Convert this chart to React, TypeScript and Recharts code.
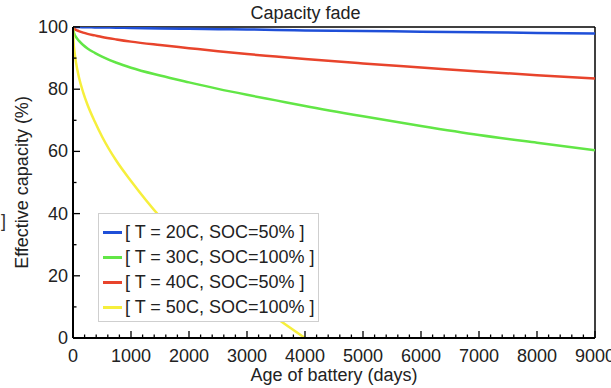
import { Line, LineChart, ReferenceLine, XAxis, YAxis } from "recharts";

// 읽어낸 값 (그림에서 추정)
const days = [0, 10, 25, 50, 100, 175, 250, 375, 500, 750, 1000, 1500, 2000, 2500, 3000, 3500, 4000, 5000, 6000, 7000, 8000, 9000];
const t20soc50 = [100, 100, 99.99, 99.98, 99.96, 99.93, 99.9, 99.87, 99.84, 99.77, 99.7, 99.55, 99.4, 99.3, 99.2, 99.05, 98.9, 98.7, 98.5, 98.3, 98.1, 97.9];
const t30soc100 = [100, 98.6, 97.7, 96.8, 95.6, 94.2, 93.1, 91.7, 90.5, 88.5, 86.9, 84.4, 82.2, 80.1, 78.2, 76.4, 74.6, 71.3, 68.2, 65.3, 62.8, 60.4];
const t40soc50 = [100, 99.7, 99.4, 99.1, 98.7, 98.2, 97.8, 97.3, 96.8, 96.0, 95.3, 94.2, 93.2, 92.2, 91.3, 90.5, 89.7, 88.3, 87.0, 85.7, 84.5, 83.4];
const t50soc100 = [100, 95, 92.1, 88.8, 84, 79, 75, 69.6, 64.8, 56.9, 50.5, 39, 29.5, 21, 13.5, 6.5, 0, null, null, null, null, null];

const seriesNames = [
  "[ T = 20C, SOC=50% ]",
  "[ T = 30C, SOC=100% ]",
  "[ T = 40C, SOC=50% ]",
  "[ T = 50C, SOC=100% ]",
];
const seriesColors = ["#1f4fd8", "#62e646", "#e8442c", "#f6ef3c"];

const xMajorTicks = [0, 1000, 2000, 3000, 4000, 5000, 6000, 7000, 8000, 9000];
const yMajorTicks = [0, 20, 40, 60, 80, 100];

const xTicks: number[] = [];
for (let v = 0; v <= 9000; v += 200) xTicks.push(v);
const yTicks: number[] = [];
for (let v = 0; v <= 100; v += 10) yTicks.push(v);

const data = days.map((d, i) => ({
  day: d,
  s0: t20soc50[i],
  s1: t30soc100[i],
  s2: t40soc50[i],
  s3: t50soc100[i],
}));

const FONT = "'Liberation Sans', Arial, sans-serif";
const TEXT = "#222";
const FS = 18;

function XTick(props: any) {
  const { x, y, payload } = props;
  const major = xMajorTicks.includes(payload.value);
  return (
    <g>
      <line x1={x} x2={x} y1={y} y2={y - (major ? 7 : 3.5)} stroke="#000" strokeWidth={1.3} />
      {major && (
        <text x={x} y={y + 24} textAnchor="middle" fontSize={FS} fill={TEXT} fontFamily={FONT}>
          {payload.value}
        </text>
      )}
    </g>
  );
}

function YTick(props: any) {
  const { x, y, payload } = props;
  const major = yMajorTicks.includes(payload.value);
  return (
    <g>
      <line x1={x} x2={x + (major ? 7 : 3.5)} y1={y} y2={y} stroke="#000" strokeWidth={1.3} />
      {major && (
        <text x={x - 5} y={y + 6} textAnchor="end" fontSize={FS} fill={TEXT} fontFamily={FONT}>
          {payload.value}
        </text>
      )}
    </g>
  );
}

export default function App() {
  return (
    <div style={{ position: "absolute", left: 0, top: 0, width: 611, height: 388, background: "#fff", fontFamily: FONT }}>
      <div
        style={{
          position: "absolute",
          top: 3,
          left: 0,
          width: 611,
          textAlign: "center",
          fontSize: FS,
          lineHeight: "20px",
          color: TEXT,
        }}
      >
        Capacity fade
      </div>
      <LineChart width={611} height={388} data={data} margin={{ top: 27, right: 16, bottom: 0, left: 0 }}>
        <XAxis
          dataKey="day"
          type="number"
          domain={[0, 9000]}
          ticks={xTicks}
          interval={0}
          height={50}
          tickSize={0}
          tickMargin={0}
          tickLine={false}
          tick={<XTick />}
          axisLine={{ stroke: "#000", strokeWidth: 2 }}
          allowDataOverflow
          label={{
            value: "Age of battery (days)",
            position: "insideBottom",
            offset: 7,
            fontSize: FS,
            fill: TEXT,
            fontFamily: FONT,
          }}
        />
        <YAxis
          type="number"
          domain={[0, 100]}
          ticks={yTicks}
          interval={0}
          width={73}
          tickSize={0}
          tickMargin={0}
          tickLine={false}
          tick={<YTick />}
          axisLine={{ stroke: "#000", strokeWidth: 2 }}
          allowDataOverflow
          label={{
            value: "Effective capacity (%)",
            angle: -90,
            position: "insideLeft",
            offset: 22,
            fontSize: FS,
            fill: TEXT,
            fontFamily: FONT,
            style: { textAnchor: "middle" },
          }}
        />
        <ReferenceLine y={100} stroke="#000" strokeWidth={1.5} />
        <ReferenceLine x={9000} stroke="#000" strokeWidth={1.5} />
        {seriesNames.map((name, i) => (
          <Line
            key={name}
            type="monotone"
            dataKey={`s${i}`}
            name={name}
            stroke={seriesColors[i]}
            strokeWidth={2.5}
            dot={false}
            activeDot={false}
            isAnimationActive={false}
            connectNulls={false}
          />
        ))}
      </LineChart>
      <div
        style={{
          position: "absolute",
          left: 98,
          top: 213,
          width: 219,
          height: 101,
          border: "1px solid #cfcfcf",
          background: "#fff",
          paddingTop: 6,
          boxSizing: "content-box",
        }}
      >
        {seriesNames.map((name, i) => (
          <div key={name} style={{ display: "flex", alignItems: "center", height: 25 }}>
            <div style={{ width: 19, height: 3, background: seriesColors[i], marginLeft: 4, marginRight: 3 }} />
            <span style={{ fontSize: FS, color: TEXT, whiteSpace: "nowrap" }}>{name}</span>
          </div>
        ))}
      </div>
      <div style={{ position: "absolute", left: 1, top: 211, fontSize: FS, lineHeight: "20px", color: "#333" }}>]</div>
    </div>
  );
}
